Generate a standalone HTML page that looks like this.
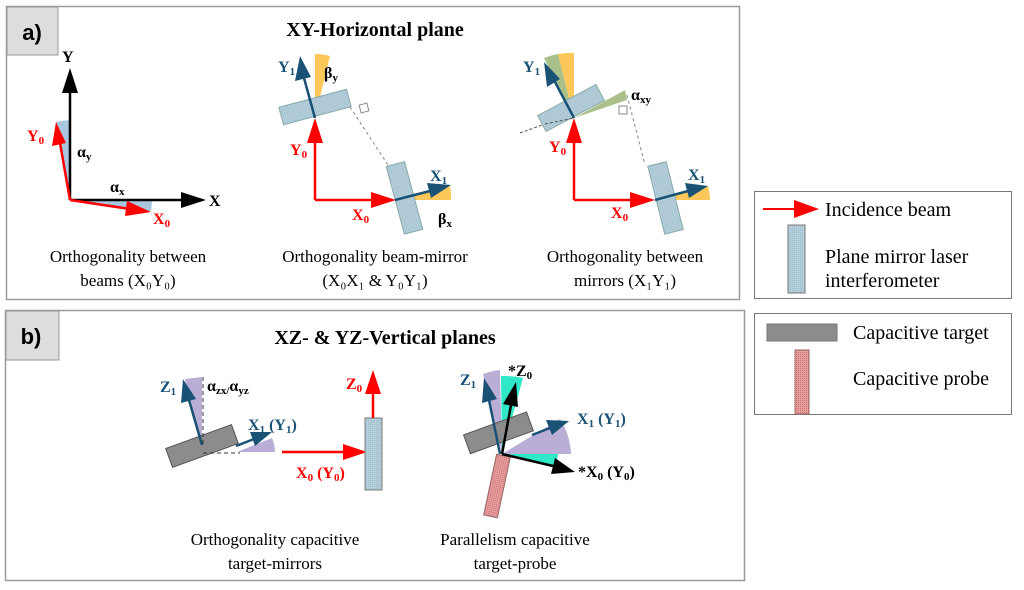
<!DOCTYPE html>
<html><head><meta charset="utf-8"><style>
html,body{margin:0;padding:0;background:#fff;}
svg{display:block;font-family:"Liberation Serif",serif;}
.b{font-weight:bold;}
</style></head><body>
<svg width="1024" height="590" viewBox="0 0 1024 590">
<defs>
<pattern id="bl" width="2" height="2" patternUnits="userSpaceOnUse"><rect width="2" height="2" fill="#b4cfdc"/><rect width="1" height="1" fill="#9fb9c6"/></pattern>
<pattern id="rd" width="2" height="2" patternUnits="userSpaceOnUse"><rect width="2" height="2" fill="#e8a0a0"/><rect width="1" height="1" fill="#c86a6a"/></pattern>
</defs>
<!-- panel a -->
<rect x="6.5" y="6.5" width="733" height="293" fill="#fff" stroke="#999" stroke-width="1.5"/>
<rect x="7" y="7" width="51" height="48" fill="#ddd" stroke="#999"/>
<text x="32" y="40" font-size="22" class="b" text-anchor="middle" font-family="Liberation Sans">a)</text>
<text x="375" y="36" font-size="20" class="b" text-anchor="middle">XY-Horizontal plane</text>

<!-- diag 1 -->
<path d="M70,200 L70,120 A80,80 0 0 0 56,122 Z" fill="#a9c6e0"/>
<path d="M70,200 L152,200 A82,82 0 0 1 151,211 Z" fill="#a9c6e0"/>
<line x1="70" y1="200" x2="70" y2="92" stroke="#000" stroke-width="2.5"/>
<polygon points="70,68 62,93 78,93"/>
<line x1="70" y1="200" x2="182" y2="200" stroke="#000" stroke-width="2.5"/>
<polygon points="206,200 181,192 181,208"/>
<line x1="70" y1="200" x2="60" y2="143" stroke="#f00" stroke-width="2.5"/>
<polygon points="56,122 52,146 66,143" fill="#f00"/>
<line x1="70" y1="200" x2="130" y2="209" stroke="#f00" stroke-width="2.5"/>
<polygon points="151,212 127,201 125,216" fill="#f00"/>
<text x="62" y="62" font-size="16" class="b">Y</text>
<text x="209" y="206" font-size="16" class="b">X</text>
<text x="27" y="141" font-size="16" class="b" fill="#f00">Y<tspan font-size="11" dy="3">0</tspan></text>
<text x="153" y="224" font-size="16" class="b" fill="#f00">X<tspan font-size="11" dy="3">0</tspan></text>
<text x="77" y="157" font-size="16" class="b">α<tspan font-size="11" dy="3">y</tspan></text>
<text x="110" y="192" font-size="16" class="b">α<tspan font-size="11" dy="3">x</tspan></text>
<text x="128" y="262" font-size="17" text-anchor="middle">Orthogonality between</text>
<text x="128" y="286" font-size="17" text-anchor="middle">beams (X₀Y₀)</text>

<!-- diag 2 -->
<path d="M315,118 L315,54 A64,64 0 0 1 330,56 Z" fill="#fdc75a"/>
<path d="M395,200 L451,200 A56,56 0 0 0 450,186 Z" fill="#fdc75a"/>
<rect x="280" y="98" width="70" height="18" fill="url(#bl)" stroke="#8aa" transform="rotate(-15 315 107)"/>
<rect x="395" y="163" width="19" height="70" fill="url(#bl)" stroke="#8aa" transform="rotate(-15 404 198)"/>
<line x1="350" y1="107" x2="388" y2="165" stroke="#888" stroke-dasharray="3,3"/>
<rect x="360" y="104" width="8" height="8" fill="#fff" stroke="#888" transform="rotate(-15 364 108)"/>
<line x1="315" y1="200" x2="315" y2="142" stroke="#f00" stroke-width="2.5"/>
<polygon points="315,118 307,143 323,143" fill="#f00"/>
<line x1="315" y1="200" x2="372" y2="200" stroke="#f00" stroke-width="2.5"/>
<polygon points="396,200 371,192 371,208" fill="#f00"/>
<line x1="315" y1="118" x2="304" y2="78" stroke="#1a5276" stroke-width="2.5"/>
<polygon points="300,56 295,81 311,77" fill="#1a5276"/>
<line x1="395" y1="200" x2="430" y2="191" stroke="#1a5276" stroke-width="2.5"/>
<polygon points="451,185 427,183 431,198" fill="#1a5276"/>
<text x="278" y="72" font-size="16" class="b" fill="#1a5276">Y<tspan font-size="11" dy="3">1</tspan></text>
<text x="324" y="78" font-size="16" class="b">β<tspan font-size="11" dy="3">y</tspan></text>
<text x="290" y="155" font-size="16" class="b" fill="#f00">Y<tspan font-size="11" dy="3">0</tspan></text>
<text x="352" y="220" font-size="16" class="b" fill="#f00">X<tspan font-size="11" dy="3">0</tspan></text>
<text x="430" y="181" font-size="16" class="b" fill="#1a5276">X<tspan font-size="11" dy="3">1</tspan></text>
<text x="438" y="224" font-size="16" class="b">β<tspan font-size="11" dy="3">x</tspan></text>
<text x="375" y="262" font-size="17" text-anchor="middle">Orthogonality beam-mirror</text>
<text x="375" y="286" font-size="17" text-anchor="middle">(X₀X₁ &amp; Y₀Y₁)</text>

<!-- diag 3 -->
<path d="M574,118 L544,58 A66,66 0 0 1 558,54 Z" fill="#a9c08a"/>
<path d="M574,118 L558,54 A66,66 0 0 1 574,53 Z" fill="#fdc75a"/>
<path d="M574,118 L625,90 L627,100 Z" fill="#a9c08a"/>
<path d="M655,200 L710,200 A55,55 0 0 0 708,186 Z" fill="#fdc75a"/>
<line x1="520" y1="133" x2="545" y2="124" stroke="#555" stroke-dasharray="3,2"/>
<rect x="538" y="99" width="66" height="18" fill="url(#bl)" stroke="#8aa" transform="rotate(-28 571 108)"/>
<line x1="545" y1="124" x2="574" y2="118" stroke="#555" stroke-dasharray="3,2"/>
<rect x="656" y="163" width="19" height="70" fill="url(#bl)" stroke="#8aa" transform="rotate(-14 665 198)"/>
<line x1="627" y1="95" x2="645" y2="165" stroke="#888" stroke-dasharray="3,3"/>
<rect x="619" y="106" width="8" height="8" fill="#fff" stroke="#888"/>
<line x1="574" y1="200" x2="574" y2="142" stroke="#f00" stroke-width="2.5"/>
<polygon points="574,118 566,143 582,143" fill="#f00"/>
<line x1="574" y1="200" x2="632" y2="200" stroke="#f00" stroke-width="2.5"/>
<polygon points="655,200 630,192 630,208" fill="#f00"/>
<line x1="574" y1="118" x2="555" y2="82" stroke="#1a5276" stroke-width="2.5"/>
<polygon points="544,62 547,87 560,79" fill="#1a5276"/>
<line x1="655" y1="200" x2="688" y2="191" stroke="#1a5276" stroke-width="2.5"/>
<polygon points="708,186 685,183 689,198" fill="#1a5276"/>
<text x="523" y="72" font-size="16" class="b" fill="#1a5276">Y<tspan font-size="11" dy="3">1</tspan></text>
<text x="631" y="100" font-size="16" class="b">α<tspan font-size="11" dy="3">xy</tspan></text>
<text x="549" y="152" font-size="16" class="b" fill="#f00">Y<tspan font-size="11" dy="3">0</tspan></text>
<text x="611" y="218" font-size="16" class="b" fill="#f00">X<tspan font-size="11" dy="3">0</tspan></text>
<text x="688" y="180" font-size="16" class="b" fill="#1a5276">X<tspan font-size="11" dy="3">1</tspan></text>
<text x="625" y="262" font-size="17" text-anchor="middle">Orthogonality between</text>
<text x="625" y="286" font-size="17" text-anchor="middle">mirrors (X₁Y₁)</text>

<!-- legend 1 -->
<rect x="754.5" y="191.5" width="257" height="107" fill="#fff" stroke="#777"/>
<line x1="763" y1="209" x2="795" y2="209" stroke="#f00" stroke-width="2"/>
<polygon points="819,209 794,200 794,218" fill="#f00"/>
<text x="825" y="216" font-size="20">Incidence beam</text>
<rect x="788" y="225" width="17" height="68" fill="url(#bl)" stroke="#777"/>
<text x="825" y="263" font-size="20">Plane mirror laser</text>
<text x="825" y="287" font-size="20">interferometer</text>

<!-- panel b -->
<rect x="5.5" y="310.5" width="739" height="270" fill="#fff" stroke="#999" stroke-width="1.5"/>
<rect x="6" y="311" width="53" height="49" fill="#ddd" stroke="#999"/>
<text x="31" y="344" font-size="22" class="b" text-anchor="middle" font-family="Liberation Sans">b)</text>
<text x="385" y="344" font-size="20" class="b" text-anchor="middle">XZ- &amp; YZ-Vertical planes</text>

<!-- b diag 1 -->
<path d="M202,446 L185,379 L202,377 Z" fill="#bbaed6"/>
<path d="M237,452 L275,452 A38,38 0 0 0 272,438 Z" fill="#bbaed6"/>
<rect x="167" y="436" width="70" height="20" fill="#8c8c8c" stroke="#555" transform="rotate(-20 202 446)"/>
<line x1="203" y1="377" x2="203" y2="446" stroke="#333" stroke-dasharray="4,3"/>
<line x1="203" y1="453" x2="240" y2="453" stroke="#333" stroke-dasharray="4,3"/>
<line x1="202" y1="445" x2="189" y2="400" stroke="#1a5276" stroke-width="2.5"/>
<polygon points="183,379 181,403 196,399" fill="#1a5276"/>
<line x1="236" y1="446" x2="254" y2="439" stroke="#1a5276" stroke-width="2.5"/>
<polygon points="272,432 250,432 255,446" fill="#1a5276"/>
<line x1="282" y1="452" x2="345" y2="452" stroke="#f00" stroke-width="2.5"/>
<polygon points="367,452 343,444 343,460" fill="#f00"/>
<rect x="365" y="418" width="17" height="72" fill="url(#bl)" stroke="#777"/>
<line x1="373" y1="418" x2="373" y2="392" stroke="#f00" stroke-width="2.5"/>
<polygon points="373,370 365,394 381,394" fill="#f00"/>
<text x="160" y="392" font-size="16" class="b" fill="#1a5276">Z<tspan font-size="11" dy="3">1</tspan></text>
<text x="207" y="391" font-size="16" class="b">α<tspan font-size="11" dy="3">zx/</tspan><tspan dy="-3">α</tspan><tspan font-size="11" dy="3">yz</tspan></text>
<text x="248" y="430" font-size="16" class="b" fill="#1a5276">X<tspan font-size="11" dy="3">1</tspan><tspan dy="-3"> (Y</tspan><tspan font-size="11" dy="3">1</tspan><tspan dy="-3">)</tspan></text>
<text x="296" y="478" font-size="16" class="b" fill="#f00">X<tspan font-size="11" dy="3">0</tspan><tspan dy="-3"> (Y</tspan><tspan font-size="11" dy="3">0</tspan><tspan dy="-3">)</tspan></text>
<text x="346" y="389" font-size="16" class="b" fill="#f00">Z<tspan font-size="11" dy="3">0</tspan></text>
<text x="275" y="545" font-size="17" text-anchor="middle">Orthogonality capacitive</text>
<text x="275" y="569" font-size="17" text-anchor="middle">target-mirrors</text>

<!-- b diag 2 -->
<path d="M502,454 L483,374 A80,80 0 0 1 500,370 Z" fill="#bbaed6"/>
<path d="M502,454 L571,454 A70,70 0 0 0 560,419 Z" fill="#bbaed6"/>
<path d="M502,454 L501,376 A78,78 0 0 1 523,378 Z" fill="#2ee8c8"/>
<path d="M502,454 L558,454 L556,467 Z" fill="#2ee8c8"/>
<rect x="490" y="455" width="14" height="62" fill="url(#rd)" stroke="#966" transform="rotate(12 497 486)"/>
<rect x="465" y="423" width="67" height="20" fill="#8c8c8c" stroke="#555" transform="rotate(-20 498 433)"/>
<line x1="500" y1="454" x2="489" y2="400" stroke="#1a5276" stroke-width="2.5"/>
<polygon points="484,378 482,403 497,399" fill="#1a5276"/>
<line x1="532" y1="435" x2="550" y2="428" stroke="#1a5276" stroke-width="2.5"/>
<polygon points="569,421 546,420 552,435" fill="#1a5276"/>
<line x1="502" y1="454" x2="511" y2="405" stroke="#000" stroke-width="2.5"/>
<polygon points="516,382 503,404 518,407"/>
<line x1="502" y1="454" x2="553" y2="466" stroke="#000" stroke-width="2.5"/>
<polygon points="575,472 555,458 551,474"/>
<text x="460" y="385" font-size="16" class="b" fill="#1a5276">Z<tspan font-size="11" dy="3">1</tspan></text>
<text x="508" y="376" font-size="16" class="b">*Z<tspan font-size="11" dy="3">0</tspan></text>
<text x="577" y="424" font-size="16" class="b" fill="#1a5276">X<tspan font-size="11" dy="3">1</tspan><tspan dy="-3"> (Y</tspan><tspan font-size="11" dy="3">1</tspan><tspan dy="-3">)</tspan></text>
<text x="578" y="477" font-size="16" class="b">*X<tspan font-size="11" dy="3">0</tspan><tspan dy="-3"> (Y</tspan><tspan font-size="11" dy="3">0</tspan><tspan dy="-3">)</tspan></text>
<text x="515" y="545" font-size="17" text-anchor="middle">Parallelism capacitive</text>
<text x="515" y="569" font-size="17" text-anchor="middle">target-probe</text>

<!-- legend 2 -->
<rect x="754.5" y="313.5" width="257" height="101" fill="#fff" stroke="#777"/>
<rect x="767" y="324" width="70" height="17" fill="#8c8c8c" stroke="#777"/>
<text x="853" y="339" font-size="20">Capacitive target</text>
<rect x="795" y="350" width="14" height="64" fill="url(#rd)" stroke="#966"/>
<text x="853" y="385" font-size="20">Capacitive probe</text>
</svg>
</body></html>
